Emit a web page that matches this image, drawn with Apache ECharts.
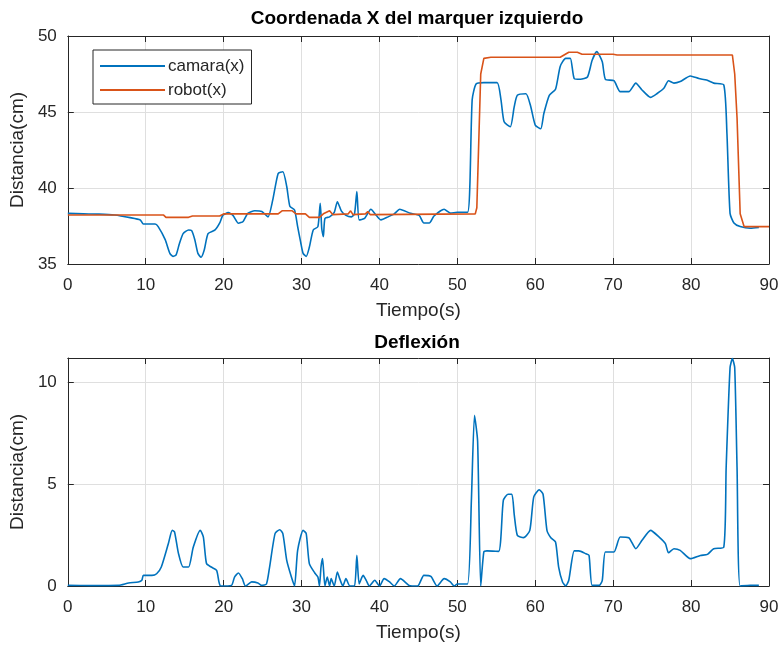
<!DOCTYPE html>
<html>
<head>
<meta charset="utf-8">
<script src="https://cdn.jsdelivr.net/npm/echarts@6/dist/echarts.min.js"></script>
<style>
  html, body { margin: 0; padding: 0; background: #fff; }
  #chart { width: 784px; height: 650px; }
</style>
</head>
<body>
<div id="chart"></div>
<script>
// Tiempo (s) y coordenada X medida por la cámara
const camT = [0, 2, 4, 6, 8, 9.3, 9.7, 11.2, 11.6, 12.5, 13.1, 13.5, 13.9, 14.3, 14.8, 15.5, 15.9, 16.3, 16.7, 17.1,
  17.5, 18.0, 18.9, 19.5, 19.9, 20.6, 21.2, 21.9, 22.5, 23.1, 24.0, 24.9, 25.7, 26.3, 27.0, 27.6, 28.1, 28.5, 29.1, 29.5,
  29.9, 30.2, 30.6, 31.0, 31.5, 32.1, 32.4, 32.6, 32.8, 33.0, 33.6, 34.2, 34.6, 35.1, 35.7, 36.4, 36.8, 37.1, 37.4, 38.1,
  38.9, 39.6, 40.2, 41.1, 41.9, 42.6, 44.0, 45.1, 45.7, 46.4, 47.0, 48.3, 49.1, 50.0, 51.3, 51.6, 51.9, 52.4, 53.4, 55.1,
  55.6, 56.0, 56.8, 57.3, 57.7, 58.8, 59.4, 60.0, 60.7, 61.1, 61.8, 62.6, 63.2, 63.9, 64.5, 65.0, 65.8, 66.7, 67.3, 67.9,
  68.6, 69.0, 70.1, 70.9, 72.0, 72.9, 73.7, 74.8, 75.6, 76.5, 77.1, 77.8, 78.6, 79.9, 81.0, 82.0, 82.9, 84.2, 84.6, 85.0,
  85.5, 86.3, 87.6, 88.7];
const camX = [38.33, 38.3, 38.28, 38.22, 38.05, 37.9, 37.63, 37.63, 37.46, 36.6, 35.7, 35.5, 35.6, 36.3, 37.0, 37.24, 37.2, 36.6, 35.7, 35.44,
  35.9, 37.0, 37.24, 37.7, 38.2, 38.38, 38.2, 37.68, 37.8, 38.33, 38.5, 38.45, 38.1, 39.2, 40.96, 41.07, 40.1, 38.8, 38.55, 37.46,
  36.4, 35.7, 35.5, 36.1, 37.24, 37.46, 39.0, 37.3, 36.8, 38.0, 38.1, 38.4, 39.1, 38.5, 38.2, 38.1, 38.3, 39.76, 37.9, 38.0,
  38.6, 38.2, 37.9, 38.1, 38.3, 38.6, 38.33, 38.2, 37.7, 37.7, 38.16, 38.6, 38.35, 38.4, 38.4, 40.1, 45.8, 46.84, 46.93, 46.93,
  45.8, 44.36, 44.03, 45.35, 46.1, 46.2, 45.4, 44.14, 43.9, 44.9, 46.1, 46.5, 48.0, 48.53, 48.53, 47.2, 47.15, 47.3, 48.4, 48.97,
  48.3, 47.15, 47.06, 46.34, 46.34, 46.9, 46.45, 45.96, 46.2, 46.56, 47.06, 46.9, 47.0, 47.37, 47.2, 47.1, 46.9, 46.78, 43.6, 38.33,
  37.7, 37.46, 37.35, 37.4];

// Tiempo (s) y coordenada X del robot
const robT = [0, 12.3, 12.6, 15.5, 16, 19.5, 20, 27, 27.5, 28.8, 29.3, 30.5, 31, 32.3, 32.8, 33.6, 34, 36, 36.3, 36.6,
  38.2, 38.5, 38.8, 52.3, 52.5, 53.0, 53.4, 54.3, 63.2, 64.3, 65.4, 66.0, 70.0, 70.5, 85.3, 85.6, 85.9, 86.3, 86.8, 90];
const robX = [38.22, 38.22, 38.07, 38.07, 38.16, 38.16, 38.3, 38.3, 38.5, 38.5, 38.3, 38.3, 38.07, 38.07, 38.3, 38.5, 38.25, 38.3, 38.5, 38.25,
  38.3, 38.45, 38.25, 38.3, 38.7, 47.5, 48.53, 48.6, 48.6, 48.93, 48.93, 48.8, 48.8, 48.75, 48.75, 47.5, 44.6, 38.3, 37.46, 37.46];

// Tiempo (s) y deflexión (cm)
const defT = [0, 3, 6.5, 7.8, 9.05, 9.5, 9.7, 10.8, 11.4, 12.0, 12.9, 13.4, 13.7, 14.2, 14.8, 15.5, 16.1, 17.0, 17.4, 17.8,
  18.4, 19.1, 19.4, 19.6, 21.0, 21.4, 21.9, 22.4, 22.8, 23.6, 24.4, 24.9, 25.5, 25.9, 26.6, 27.2, 27.6, 28.1, 28.7, 29.1,
  29.5, 30.2, 30.6, 31.0, 31.7, 32.1, 32.3, 32.5, 32.7, 33.0, 33.3, 33.6, 33.8, 34.2, 34.6, 34.9, 35.3, 35.7, 36.2, 36.8,
  37.1, 37.4, 37.9, 38.3, 38.7, 39.4, 40.0, 40.6, 41.3, 41.9, 42.7, 43.8, 44.9, 45.7, 46.6, 47.4, 48.3, 49.1, 49.6, 50.0,
  51.3, 51.8, 52.2, 52.6, 53.0, 53.4, 53.8, 55.3, 55.9, 56.5, 57.0, 57.3, 57.7, 58.5, 59.3, 59.8, 60.5, 61.0, 61.5, 62.0,
  62.6, 63.0, 63.5, 63.9, 64.3, 65.0, 65.6, 66.5, 66.9, 67.3, 68.2, 68.6, 69.0, 70.1, 70.9, 72.0, 72.9, 73.7, 74.8, 75.9,
  76.7, 77.1, 77.8, 78.6, 79.9, 81.2, 82.1, 82.9, 84.2, 84.5, 85.0, 85.3, 85.6, 85.9, 86.3, 87.6, 88.7];
const defV = [0.03, 0.02, 0.03, 0.15, 0.2, 0.28, 0.52, 0.52, 0.6, 0.93, 2.07, 2.73, 2.65, 1.6, 0.93, 0.93, 1.9, 2.73, 2.4, 1.1,
  0.93, 0.77, 0.2, 0, 0.03, 0.44, 0.64, 0.36, 0, 0.2, 0.15, 0.03, 0.1, 0.93, 2.57, 2.76, 2.57, 1.26, 0.44, 0,
  1.75, 2.73, 2.57, 1.1, 0.64, 0.44, 0, 0.93, 1.34, 0, 0.44, 0, 0.36, 0, 0.69, 0.36, 0, 0.36, 0, 0,
  1.5, 0.1, 0.52, 0.28, 0, 0.28, 0, 0.36, 0.2, 0, 0.36, 0.03, 0, 0.52, 0.47, 0, 0.36, 0.2, 0, 0.1,
  0.1, 4.2, 8.37, 7.1, 0, 1.67, 1.72, 1.7, 4.2, 4.5, 4.5, 3.5, 2.48, 2.37, 2.73, 4.36, 4.72, 4.5, 2.73, 2.37,
  2.16, 0.93, 0.2, 0, 0.28, 1.72, 1.72, 1.58, 1.5, 0.03, 0.03, 0.28, 1.67, 1.67, 2.4, 2.37, 1.83, 2.24, 2.73, 2.4,
  2.08, 1.63, 1.83, 1.75, 1.34, 1.5, 1.55, 1.83, 1.91, 5.8, 10.7, 11.15, 10.7, 5.8, 0, 0.03, 0.03];

// Límites y marcas de los ejes
const xTicks = [0, 10, 20, 30, 40, 50, 60, 70, 80, 90];
const yTopTicks = [35, 40, 45, 50];
const yBotTicks = [0, 5, 10];
const yBotMax = 11.18;

const pairs = (ts, vs) => ts.map((t, i) => [t, vs[i]]);

const FONT = "'Liberation Sans', Arial, Helvetica, sans-serif";
const INK = '#262626';
const GRID = '#dfdfdf';
const BLUE = '#0072BD';
const ORANGE = '#D95319';

function xAxes(gridIndex) {
  const base = {
    type: 'value', gridIndex: gridIndex,
    min: xTicks[0], max: xTicks[xTicks.length - 1], interval: xTicks[1] - xTicks[0],
    axisLine: { show: true, onZero: false, lineStyle: { color: INK, width: 1 } },
    axisTick: { show: true, inside: true, length: 6, lineStyle: { color: INK } }
  };
  return [
    Object.assign({}, base, {
      position: 'bottom',
      axisLabel: { show: true, margin: 13, fontSize: 17, color: INK, fontFamily: FONT },
      splitLine: { show: true, lineStyle: { color: GRID, width: 1 } },
      name: 'Tiempo(s)', nameLocation: 'middle', nameGap: 37,
      nameTextStyle: { fontSize: 19, color: INK, fontFamily: FONT }
    }),
    Object.assign({}, base, {
      position: 'top',
      axisLabel: { show: false },
      splitLine: { show: false }
    })
  ];
}

function yAxes(gridIndex, ticks, maxVal) {
  const base = {
    type: 'value', gridIndex: gridIndex,
    min: ticks[0], max: maxVal, interval: ticks[1] - ticks[0],
    axisLine: { show: true, onZero: false, lineStyle: { color: INK, width: 1 } },
    axisTick: { show: true, inside: true, length: 6, lineStyle: { color: INK } }
  };
  return [
    Object.assign({}, base, {
      position: 'left',
      axisLabel: {
        show: true, margin: 11, fontSize: 17, color: INK, fontFamily: FONT,
        formatter: v => (ticks.indexOf(v) >= 0 ? String(v) : '')
      },
      splitLine: { show: true, lineStyle: { color: GRID, width: 1 } },
      name: 'Distancia(cm)', nameLocation: 'middle', nameGap: 31, nameRotate: 90,
      nameTextStyle: { fontSize: 19, color: INK, fontFamily: FONT }
    }),
    Object.assign({}, base, {
      position: 'right',
      axisLabel: { show: false },
      splitLine: { show: false }
    })
  ];
}

const chart = echarts.init(document.getElementById('chart'), null, { renderer: 'canvas' });

chart.setOption({
  animation: false,
  backgroundColor: '#fff',
  title: [
    {
      text: 'Coordenada X del marquer izquierdo', left: 417, top: 9, textAlign: 'center', padding: 0,
      textStyle: { fontSize: 19, fontWeight: 'bold', color: '#000', fontFamily: FONT }
    },
    {
      text: 'Deflexión', left: 417, top: 333, textAlign: 'center', padding: 0,
      textStyle: { fontSize: 19, fontWeight: 'bold', color: '#000', fontFamily: FONT }
    }
  ],
  legend: {
    data: ['camara(x)', 'robot(x)'],
    orient: 'vertical',
    left: 93, top: 50,
    padding: [7, 7, 5, 7],
    itemGap: 6,
    icon: 'rect',
    itemWidth: 65, itemHeight: 2,
    backgroundColor: '#fff',
    borderColor: INK, borderWidth: 1,
    textStyle: { fontSize: 17, color: INK, fontFamily: FONT, lineHeight: 18, padding: [0, 0, 0, -2] }
  },
  grid: [
    { left: 66, right: 15, top: 36, height: 228 },
    { left: 66, right: 15, top: 358, height: 228 }
  ],
  xAxis: xAxes(0).concat(xAxes(1)),
  yAxis: yAxes(0, yTopTicks, yTopTicks[yTopTicks.length - 1]).concat(yAxes(1, yBotTicks, yBotMax)),
  series: [
    {
      name: 'camara(x)', type: 'line', xAxisIndex: 0, yAxisIndex: 0,
      data: pairs(camT, camX), symbol: 'none', showSymbol: false, smooth: 0.2,
      lineStyle: { color: BLUE, width: 1.6 }, itemStyle: { color: BLUE }, z: 2
    },
    {
      name: 'robot(x)', type: 'line', xAxisIndex: 0, yAxisIndex: 0,
      data: pairs(robT, robX), symbol: 'none', showSymbol: false,
      lineStyle: { color: ORANGE, width: 1.6 }, itemStyle: { color: ORANGE }, z: 3
    },
    {
      name: 'deflexion', type: 'line', xAxisIndex: 2, yAxisIndex: 2,
      data: pairs(defT, defV), symbol: 'none', showSymbol: false, smooth: 0.2,
      lineStyle: { color: BLUE, width: 1.6 }, itemStyle: { color: BLUE }, z: 2
    }
  ]
});
</script>
</body>
</html>
